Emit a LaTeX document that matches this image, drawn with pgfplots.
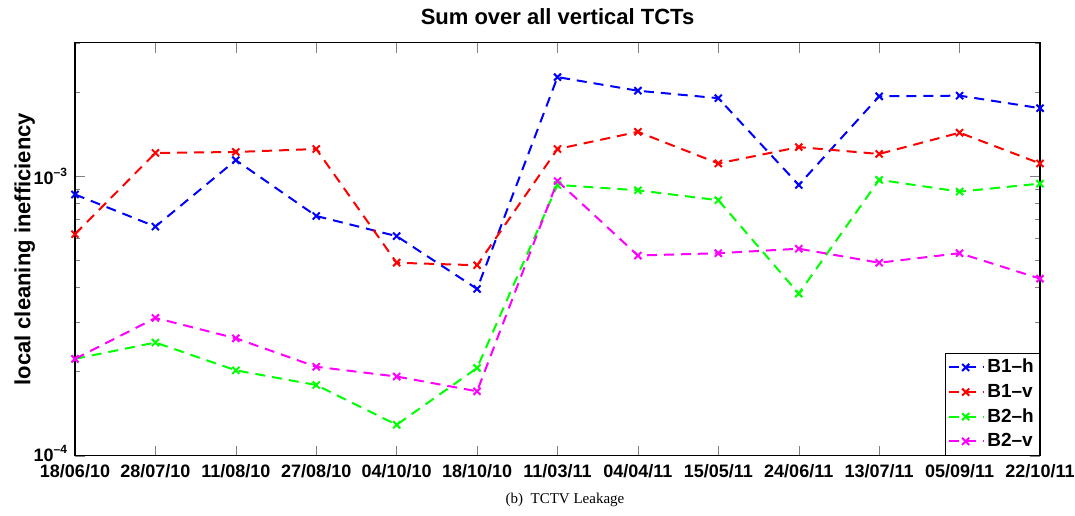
\documentclass[border=0pt]{standalone}
\usepackage{pgfplots}
\pgfplotsset{compat=1.18}
\usepackage{fontspec}
\setmainfont{Liberation Sans}
\newfontfamily\capfont{Liberation Serif}
\definecolor{mblue}{rgb}{0,0,1}
\definecolor{mred}{rgb}{1,0,0}
\definecolor{mgreen}{rgb}{0,1,0}
\definecolor{mmag}{rgb}{1,0,1}
\begin{document}
\begin{tikzpicture}
\useasboundingbox (-37.5pt,-29.65pt) rectangle (500pt,227.85pt);
\begin{axis}[
  at={(0,0)}, anchor=south west,
  scale only axis, width=482.5pt, height=206.5pt,
  ymode=log, ymin=1e-4, ymax=3e-3,
  xmin=0, xmax=12,
  xtick={0,...,12},
  xticklabels={18/06/10,28/07/10,11/08/10,27/08/10,04/10/10,18/10/10,11/03/11,04/04/11,15/05/11,24/06/11,13/07/11,05/09/11,22/10/11},
  ytick={1e-4,1e-3},
  yticklabels={\raisebox{2.5pt}{10\textsuperscript{--4}},10\textsuperscript{--3}},
  minor ytick={2e-4,3e-4,4e-4,5e-4,6e-4,7e-4,8e-4,9e-4,2e-3,3e-3},
  tick label style={font=\bfseries\fontsize{9}{10}\selectfont},
  xticklabel style={yshift=-1pt},
  title={Sum over all vertical TCTs},
  title style={font=\bfseries\fontsize{11}{12}\selectfont, at={(axis description cs:0.5,1)}, anchor=south, yshift=-0.5pt},
  ylabel={local cleaning inefficiency},
  every axis y label/.style={at={(axis description cs:-0.052,0.5)}, rotate=90, anchor=center, font=\bfseries\fontsize{11}{12}\selectfont},
  major tick length=5pt, minor tick length=2.5pt,
  tick align=inside,
  axis line style={line width=0.6pt},
  clip=false,
  legend style={at={(1,0)}, anchor=south east, font=\bfseries\fontsize{9.5}{11}\selectfont, inner sep=1pt, row sep=0.5pt, legend cell align=left, draw=black, line width=0.6pt, nodes={inner sep=1.8pt}},
  legend image code/.code={\draw[#1] (0cm,0cm) -- (0.6cm,0cm); \draw[#1, solid, mark repeat=1] plot coordinates {(0.3cm,0cm)};},
  every axis plot/.append style={dash pattern=on 5pt off 3.5pt, line width=1pt, mark=x, mark size=2.5pt, mark options={solid, line width=1pt}},
]
\addplot[color=mblue] coordinates {(0,8.6e-4) (1,6.6e-4) (2,1.14e-3) (3,7.2e-4) (4,6.1e-4) (5,3.95e-4) (6,2.26e-3) (7,2.02e-3) (8,1.90e-3) (9,9.3e-4) (10,1.93e-3) (11,1.94e-3) (12,1.75e-3)};
\addlegendentry{B1--h}
\addplot[color=mred] coordinates {(0,6.2e-4) (1,1.21e-3) (2,1.22e-3) (3,1.25e-3) (4,4.9e-4) (5,4.8e-4) (6,1.25e-3) (7,1.44e-3) (8,1.11e-3) (9,1.27e-3) (10,1.20e-3) (11,1.43e-3) (12,1.11e-3)};
\addlegendentry{B1--v}
\addplot[color=mgreen] coordinates {(0,2.22e-4) (1,2.54e-4) (2,2.02e-4) (3,1.79e-4) (4,1.29e-4) (5,2.06e-4) (6,9.3e-4) (7,8.9e-4) (8,8.2e-4) (9,3.8e-4) (10,9.7e-4) (11,8.8e-4) (12,9.4e-4)};
\addlegendentry{B2--h}
\addplot[color=mmag] coordinates {(0,2.22e-4) (1,3.11e-4) (2,2.63e-4) (3,2.08e-4) (4,1.92e-4) (5,1.70e-4) (6,9.6e-4) (7,5.2e-4) (8,5.3e-4) (9,5.5e-4) (10,4.9e-4) (11,5.3e-4) (12,4.3e-4)};
\addlegendentry{B2--v}
\end{axis}
\node[font=\capfont\fontsize{7.5}{9}\selectfont] at (245pt,-22.15pt) {(b)\enspace TCTV Leakage};
\end{tikzpicture}
\end{document}
